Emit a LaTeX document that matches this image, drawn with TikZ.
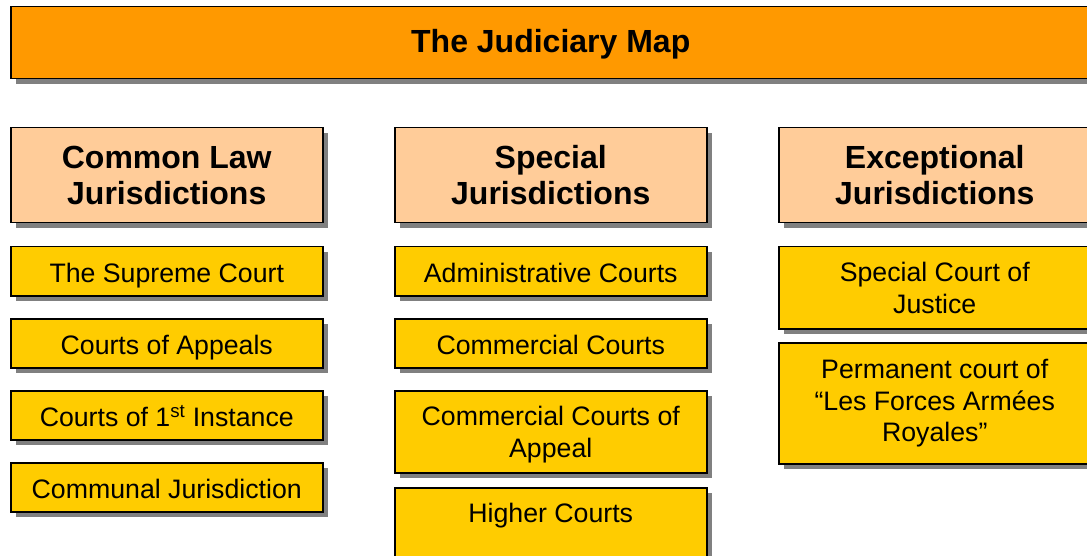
\documentclass[tikz,border=0pt]{standalone}
\usepackage{fontspec}
\setmainfont{Liberation Sans}
\usetikzlibrary{shadows,calc}
\definecolor{titleor}{HTML}{FF9900}
\definecolor{headfill}{HTML}{FFCC99}
\definecolor{itemfill}{HTML}{FFCC00}
\definecolor{shadowgray}{HTML}{808080}
\tikzset{
 sbox/.style={draw=black, line width=1.5pt, anchor=north west, inner sep=0pt, align=center,
   drop shadow={shadow xshift=5pt, shadow yshift=-5pt, fill=shadowgray, opacity=1}},
 titlebox/.style={sbox, fill=titleor, font=\fontsize{32}{37}\selectfont\bfseries},
 headbox/.style={sbox, fill=headfill, minimum width=312pt, minimum height=95pt, font=\fontsize{32}{36}\selectfont\bfseries},
 itembox/.style={sbox, fill=itemfill, minimum width=312pt, minimum height=49pt, font=\fontsize{26.7}{31.5}\selectfont},
 oneline/.style={text height=22.4pt, text depth=0pt},
 plaintext/.style={inner sep=0pt, font=\fontsize{26.7}{31.5}\selectfont},
}
\begin{document}
\begin{tikzpicture}[x=1pt,y=1pt]
\useasboundingbox (0,0) rectangle (1087,-556);
\node[titlebox, minimum width=1080pt, minimum height=72pt, text height=23pt, text depth=3pt] (title) at (10,-6) {The Judiciary Map};
% column 1
\node[headbox] (h1) at (10,-127) {Common Law\\Jurisdictions};
\node[itembox, oneline] (c1a) at (10,-246) {The Supreme Court};
\node[itembox, oneline] (c1b) at (10,-318) {Courts of Appeals};
\node[itembox, oneline] (c1c) at (10,-390) {Courts of 1\textsuperscript{st} Instance};
\node[itembox, oneline] (c1d) at (10,-462) {Communal Jurisdiction};
% column 2
\node[headbox] (h2) at (394,-127) {Special\\Jurisdictions};
\node[itembox, oneline] (c2a) at (394,-246) {Administrative Courts};
\node[itembox, oneline] (c2b) at (394,-318) {Commercial Courts};
\node[itembox, minimum height=82pt, text depth=-3pt] (c2c) at (394,-390) {Commercial Courts of\\Appeal};
\node[itembox, minimum height=90pt] (c2d) at (394,-487) {};
\node[plaintext] (c2dt) at ($(c2d.north)+(0,-29)$) {Higher Courts};
% column 3
\node[headbox] (h3) at (778,-127) {Exceptional\\Jurisdictions};
\node[itembox, minimum height=82pt] (c3a) at (778,-246) {Special Court of\\Justice};
\node[itembox, minimum height=121pt] (c3b) at (778,-342) {Permanent court of\\“Les Forces Armées\\Royales”};
\end{tikzpicture}
\end{document}
